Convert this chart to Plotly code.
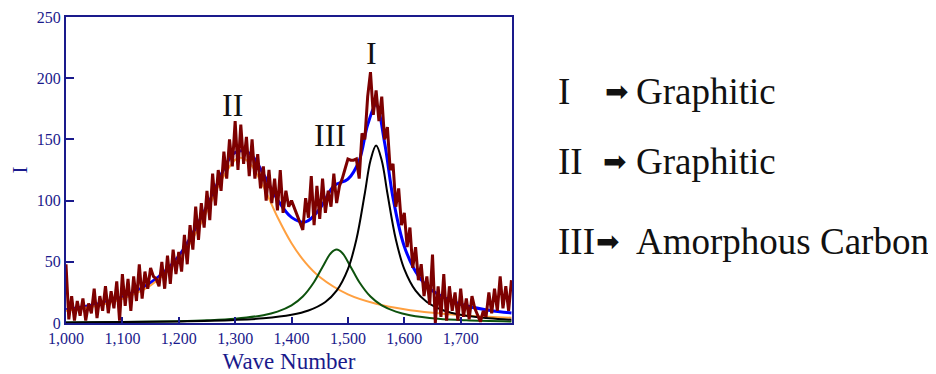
import plotly.graph_objects as go

# ---- data ----
wave_step_start = 1000
wave_step_end = 1790
measured = [
    48, 3, 22, 2, 18, 6, 20, 2, 16, 8,
    28, 4, 22, 10, 30, 8, 26, 12, 34, 2,
    40, 14, 36, 10, 38, 18, 48, 20, 42, 28,
    45, 38, 36, 30, 50, 28, 55, 32, 60, 40,
    58, 42, 72, 48, 80, 60, 95, 68, 98, 78,
    108, 84, 122, 96, 125, 108, 140, 118, 150, 128,
    165, 125, 162, 130, 152, 120, 150, 118, 138, 110,
    128, 100, 125, 98, 118, 92, 125, 90, 108, 95,
    100, 94, 88, 82, 76, 102, 86, 120, 80, 112,
    85, 118, 90, 108, 95, 122, 98, 112, 118, 126,
    134, 133, 133, 134, 118, 155, 150, 185, 205, 170,
    190, 165, 185, 150, 160, 125, 130, 95, 110, 80,
    90, 62, 78, 45, 62, 35, 48, 22, 38, 15,
    56, 0, 30, 5, 40, 2, 30, 10, 25, 2,
    28, 5, 20, 3, 22, 12, 6, 1, 10, 5,
    25, 8, 28, 10, 38, 12, 30, 10, 35,
]
measured_x = list(range(wave_step_start, wave_step_end + 1, 5))

fit_x = [1000, 1050, 1100, 1150, 1200, 1250, 1300, 1325, 1350, 1375, 1400, 1425,
         1450, 1475, 1500, 1520, 1535, 1550, 1565, 1580, 1600, 1625, 1650, 1700,
         1750, 1790]
fit_y = [10.9, 14.9, 21.4, 32.9, 54.7, 95.4, 139.3, 138.8, 121.7, 100.9, 86.3, 82.6,
         93.3, 112.1, 117.5, 132.7, 161.9, 178.2, 147.4, 102.2, 62.6, 38.4, 26.4, 15.3,
         10.5, 8.2]

peak2_x = [1000, 1050, 1100, 1150, 1200, 1225, 1250, 1275, 1300, 1310, 1325, 1350,
           1375, 1400, 1425, 1450, 1500, 1550, 1600, 1650, 1700, 1750, 1790]
peak2_y = [9.9, 13.6, 19.8, 30.8, 51.9, 69.1, 91.5, 116.2, 133.3, 135, 131.1, 111.5,
           86.6, 65.2, 49.1, 37.6, 23.4, 15.7, 11.2, 8.3, 6.4, 5.1, 4.3]

peak3_x = [1000, 1100, 1200, 1250, 1300, 1350, 1375, 1400, 1420, 1440, 1455, 1470,
           1480, 1490, 1505, 1520, 1540, 1560, 1585, 1610, 1660, 1710, 1790]
peak3_y = [0.5, 0.8, 1.5, 2.2, 3.5, 6.4, 9.3, 14.4, 21.6, 33.5, 45.8, 57.2,
           60, 57.2, 45.8, 33.5, 21.6, 14.4, 9.3, 6.4, 3.5, 2.2, 1.2]

peak1_x = [1000, 1100, 1200, 1300, 1350, 1400, 1430, 1460, 1480, 1500, 1515, 1530,
           1540, 1550, 1560, 1570, 1585, 1600, 1620, 1640, 1670, 1700, 1750, 1790]
peak1_y = [0.5, 0.8, 1.3, 2.5, 3.8, 6.7, 10.2, 17.2, 26.4, 44, 68.2, 106,
           132.8, 145, 132.8, 106, 68.2, 44, 26.4, 17.2, 10.2, 6.7, 3.8, 2.7]

x_ticks = [1000, 1100, 1200, 1300, 1400, 1500, 1600, 1700]
y_ticks = [0, 50, 100, 150, 200, 250]

peak_labels = ["I", "II", "III"]
peak_label_x = [1542, 1295, 1468]
peak_label_y = [221, 178, 154]

legend_roman = ["I", "II", "III"]
legend_names = ["Graphitic", "Graphitic", "Amorphous Carbon"]

# ---- figure ----
NAVY = "#1a1a8c"
SERIF = "Liberation Serif, Times New Roman, serif"

fig = go.Figure()
fig.add_trace(go.Scatter(x=fit_x, y=fit_y, mode="lines", line=dict(color="#0000ff", width=3, shape="spline")))
fig.add_trace(go.Scatter(x=peak2_x, y=peak2_y, mode="lines", line=dict(color="#ffa040", width=2, shape="spline")))
fig.add_trace(go.Scatter(x=peak3_x, y=peak3_y, mode="lines", line=dict(color="#0d520d", width=2, shape="spline")))
fig.add_trace(go.Scatter(x=peak1_x, y=peak1_y, mode="lines", line=dict(color="#000000", width=2, shape="spline")))
fig.add_trace(go.Scatter(x=measured_x, y=measured, mode="lines", line=dict(color="#7d0000", width=3)))

for t, xx, yy in zip(peak_labels, peak_label_x, peak_label_y):
    fig.add_annotation(x=xx, y=yy, xref="x", yref="y", text=t, showarrow=False,
                       font=dict(family=SERIF, size=32, color="#111111"))

# rows placed in paper units (plot area: 446 x 306 px)
row_y = [0.755, 0.528, 0.266]
for r, name, yy, ax in zip(legend_roman, legend_names, row_y, [1.207, 1.202, 1.186]):
    fig.add_annotation(x=1.100, y=yy, xref="paper", yref="paper", text=r, showarrow=False,
                       xanchor="left", yanchor="middle", borderpad=0,
                       font=dict(family=SERIF, size=37, color="#111111"))
    fig.add_annotation(x=ax, y=yy, xref="paper", yref="paper", text="➡", showarrow=False,
                       xanchor="left", yanchor="middle", borderpad=0,
                       font=dict(family="DejaVu Sans", size=28, color="#111111"))
    fig.add_annotation(x=1.275, y=yy, xref="paper", yref="paper", text=name, showarrow=False,
                       xanchor="left", yanchor="middle", borderpad=0,
                       font=dict(family=SERIF, size=37, color="#111111"))

# the page body adds an 8 px offset, so the figure is 8 px smaller each way
fig.update_layout(
    width=928, height=366,
    margin=dict(l=58, r=424, t=9, b=51, autoexpand=False),
    paper_bgcolor="white", plot_bgcolor="white",
    showlegend=False,
    font=dict(family=SERIF, color=NAVY),
)
fig.update_xaxes(
    range=[1000, 1791], tickvals=x_ticks, tickformat=",d", automargin=False,
    showline=True, linecolor=NAVY, linewidth=2, mirror=True,
    ticks="inside", ticklen=6, tickwidth=2, tickcolor=NAVY,
    showgrid=False, zeroline=False,
    tickfont=dict(family=SERIF, size=16, color=NAVY),
    title=dict(text="Wave Number", font=dict(family=SERIF, size=23, color=NAVY), standoff=14),
)
fig.update_yaxes(
    range=[0, 250], tickvals=y_ticks, automargin=False,
    showline=True, linecolor=NAVY, linewidth=2, mirror=True,
    ticks="inside", ticklen=8, tickwidth=2, tickcolor=NAVY,
    showgrid=False, zeroline=False,
    tickfont=dict(family=SERIF, size=16, color=NAVY),
    title=dict(text="I", font=dict(family=SERIF, size=21, color=NAVY), standoff=18),
)

fig.write_html("out.html")
